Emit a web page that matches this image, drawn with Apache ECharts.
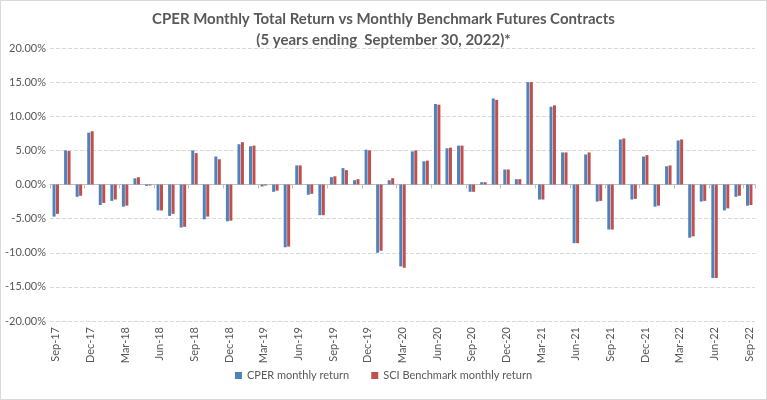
<!DOCTYPE html>
<html>
<head>
<meta charset="utf-8">
<script src="https://cdn.jsdelivr.net/npm/echarts@6/dist/echarts.min.js"></script>
<style>
html,body{margin:0;padding:0;background:#fff;}
#c{width:765px;height:398px;border:1px solid #D9D9D9;}
</style>
</head>
<body>
<div id="c"></div>
<script>
const months = ["Sep-17","Oct-17","Nov-17","Dec-17","Jan-18","Feb-18","Mar-18","Apr-18","May-18","Jun-18","Jul-18","Aug-18",
"Sep-18","Oct-18","Nov-18","Dec-18","Jan-19","Feb-19","Mar-19","Apr-19","May-19","Jun-19","Jul-19","Aug-19",
"Sep-19","Oct-19","Nov-19","Dec-19","Jan-20","Feb-20","Mar-20","Apr-20","May-20","Jun-20","Jul-20","Aug-20",
"Sep-20","Oct-20","Nov-20","Dec-20","Jan-21","Feb-21","Mar-21","Apr-21","May-21","Jun-21","Jul-21","Aug-21",
"Sep-21","Oct-21","Nov-21","Dec-21","Jan-22","Feb-22","Mar-22","Apr-22","May-22","Jun-22","Jul-22","Aug-22","Sep-22"];
const cperReturn = [-4.7,5.0,-1.8,7.6,-3.0,-2.4,-3.25,0.9,-0.2,-3.8,-4.6,-6.3,
5.0,-5.1,4.1,-5.4,5.9,5.6,-0.3,-1.07,-9.2,2.8,-1.5,-4.5,
1.07,2.4,0.63,5.1,-10.0,0.63,-12.0,4.85,3.4,11.8,5.3,5.7,
-1.07,0.34,12.6,2.2,0.78,15.0,-2.2,11.4,4.7,-8.6,4.4,-2.5,
-6.6,6.6,-2.2,4.1,-3.25,2.67,6.45,-7.8,-2.5,-13.7,-3.8,-1.8,-3.1];
const sciReturn = [-4.3,4.9,-1.65,7.8,-2.7,-2.2,-3.1,1.07,-0.15,-3.8,-4.3,-6.2,
4.6,-4.7,3.7,-5.3,6.2,5.7,-0.15,-0.9,-9.1,2.8,-1.36,-4.5,
1.2,2.1,0.78,5.0,-9.7,0.92,-12.2,5.0,3.5,11.7,5.4,5.7,
-1.07,0.34,12.4,2.2,0.78,15.0,-2.2,11.6,4.7,-8.6,4.7,-2.4,
-6.6,6.75,-2.1,4.3,-3.1,2.8,6.6,-7.6,-2.4,-13.7,-3.5,-1.65,-3.0];
const seriesNames = ["CPER monthly return","SCI Benchmark monthly return"];
const titleLines = ["CPER Monthly Total Return vs Monthly Benchmark Futures Contracts","(5 years ending  September 30, 2022)*"];

const chart = echarts.init(document.getElementById('c'));
const font = 'Lato, "Liberation Sans", sans-serif';
chart.setOption({
  animation:false,
  color:['#4F81BD','#C0504D'],
  title:{
    text: titleLines.join('\n'),
    left:'center', top:3,
    textStyle:{fontFamily:font,fontSize:15,fontWeight:'bold',color:'#595959',lineHeight:21}
  },
  legend:{
    bottom:13, left:'center',
    itemWidth:7,itemHeight:7,itemGap:22,
    icon:'rect',
    textStyle:{fontFamily:font,fontSize:11,color:'#595959'},
    data:seriesNames
  },
  grid:{left:49,right:11,top:47,bottom:78,containLabel:false},
  xAxis:[{
    type:'category', data:months, position:'bottom',
    axisLine:{show:false,onZero:false},
    axisTick:{show:false},
    axisLabel:{interval:2,rotate:90,fontFamily:font,fontSize:11,color:'#595959',margin:6}
  },{
    type:'category', data:months, position:'bottom',
    axisLine:{show:true,onZero:true,lineStyle:{color:'#BFBFBF',width:1}},
    axisTick:{show:true,interval:2,length:4,lineStyle:{color:'#BFBFBF'}},
    axisLabel:{show:false}
  }],
  yAxis:{
    type:'value', min:-20, max:20, interval:5,
    axisLine:{show:false}, axisTick:{show:false},
    splitLine:{lineStyle:{color:'#D9D9D9',type:'dashed'}},
    axisLabel:{fontFamily:font,fontSize:11,color:'#595959',margin:4,formatter:v=>v.toFixed(2)+'%'}
  },
  series:[{
    name:seriesNames[0], type:'bar', xAxisIndex:0, data:cperReturn,
    barWidth:3, barGap:'15%'
  },{
    name:seriesNames[1], type:'bar', xAxisIndex:0, data:sciReturn,
    barWidth:3, barGap:'15%'
  }]
});
</script>
</body>
</html>
